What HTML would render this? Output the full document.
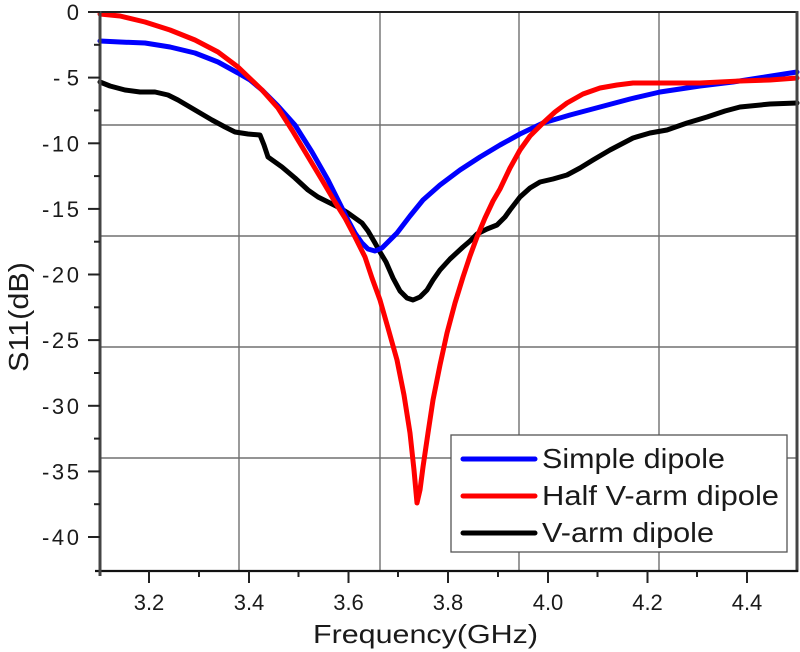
<!DOCTYPE html>
<html>
<head>
<meta charset="utf-8">
<style>
html,body{margin:0;padding:0;background:#fff;}
svg{display:block;}
text{font-family:"Liberation Sans",Arial,sans-serif;fill:#1a1a1a;}
</style>
</head>
<body>
<svg width="800" height="652" viewBox="0 0 800 652" xmlns="http://www.w3.org/2000/svg">
<rect width="800" height="652" fill="#fff"/>
<!-- grid -->
<g stroke="#707070" stroke-width="1.4" fill="none">
<line x1="239" y1="12" x2="239" y2="571"/>
<line x1="380" y1="12" x2="380" y2="571"/>
<line x1="519" y1="12" x2="519" y2="571"/>
<line x1="659" y1="12" x2="659" y2="571"/>
<line x1="100" y1="125" x2="797" y2="125"/>
<line x1="100" y1="236" x2="797" y2="236"/>
<line x1="100" y1="347" x2="797" y2="347"/>
<line x1="100" y1="458" x2="797" y2="458"/>
</g>
<!-- curves -->
<g fill="none" stroke-width="5" stroke-linejoin="round" stroke-linecap="round">
<polyline stroke="#000" points="100,82 110,86 125,90 140,92 155,92 168,95 178,100 195,110 212,120 225,127 235,132 248,134 260,135 264,145 268,157 275,162 282,167 295,178 308,190 318,197 328,202 340,208 348,213 355,218 362,223 368,231 375,243 380,252 386,262 393,278 400,291 407,298 413,300 420,297 427,290 433,280 440,270 450,259 463,247 470,241 477,234 487,229 497,225 505,217 510,210 520,197 530,188 540,182 553,179 567,175 580,168 593,160 610,150 633,138 650,133 667,130 687,123 707,117 725,111 740,107 770,104 797,103"/>
<polyline stroke="#0000ff" points="100,41 120,42 145,43 170,47 195,53 218,62 238,73 250,80 262,90 278,106 295,125 312,152 328,180 338,200 348,220 355,233 362,243 368,249 375,251 382,248 390,240 397,233 410,216 423,200 440,185 460,170 480,157 500,145 520,134 543,123 570,115 600,107 630,99 660,92 700,86 733,82 765,77 797,72"/>
<polyline stroke="#ff0000" points="100,14 120,16 145,22 170,30 195,40 218,52 238,67 262,90 278,108 292,130 307,155 322,180 335,202 345,218 355,237 365,257 372,278 380,300 388,328 397,360 404,395 410,433 414,470 417,503 420,490 423,467 428,433 433,400 440,365 447,333 455,303 463,277 470,256 477,237 485,218 493,201 500,189 510,168 520,150 530,136 543,123 555,112 567,103 583,94 600,88 617,85 633,83 667,83 700,83 740,81 770,80 797,78"/>
</g>
<!-- axes -->
<line x1="99" y1="12" x2="798" y2="12" stroke="#222" stroke-width="2"/>
<line x1="797" y1="11" x2="797" y2="572" stroke="#444" stroke-width="3"/>
<line x1="95" y1="571" x2="798" y2="571" stroke="#111" stroke-width="2.2"/>
<line x1="100" y1="11" x2="100" y2="576" stroke="#444" stroke-width="3"/>
<!-- y ticks -->
<g stroke="#222" stroke-width="2">
<line x1="88" y1="12" x2="100" y2="12"/>
<line x1="88" y1="77.6" x2="100" y2="77.6"/>
<line x1="88" y1="143.3" x2="100" y2="143.3"/>
<line x1="88" y1="208.9" x2="100" y2="208.9"/>
<line x1="88" y1="274.5" x2="100" y2="274.5"/>
<line x1="88" y1="340.1" x2="100" y2="340.1"/>
<line x1="88" y1="405.8" x2="100" y2="405.8"/>
<line x1="88" y1="471.4" x2="100" y2="471.4"/>
<line x1="88" y1="537" x2="100" y2="537"/>
<line x1="94" y1="44.8" x2="100" y2="44.8"/>
<line x1="94" y1="110.4" x2="100" y2="110.4"/>
<line x1="94" y1="176.1" x2="100" y2="176.1"/>
<line x1="94" y1="241.7" x2="100" y2="241.7"/>
<line x1="94" y1="307.3" x2="100" y2="307.3"/>
<line x1="94" y1="373" x2="100" y2="373"/>
<line x1="94" y1="438.6" x2="100" y2="438.6"/>
<line x1="94" y1="504.2" x2="100" y2="504.2"/>
</g>
<!-- x ticks -->
<g stroke="#222" stroke-width="2">
<line x1="149" y1="571" x2="149" y2="583"/>
<line x1="249" y1="571" x2="249" y2="583"/>
<line x1="348.5" y1="571" x2="348.5" y2="583"/>
<line x1="448" y1="571" x2="448" y2="583"/>
<line x1="548" y1="571" x2="548" y2="583"/>
<line x1="647.5" y1="571" x2="647.5" y2="583"/>
<line x1="747" y1="571" x2="747" y2="583"/>
<line x1="199" y1="571" x2="199" y2="577"/>
<line x1="298.5" y1="571" x2="298.5" y2="577"/>
<line x1="398" y1="571" x2="398" y2="577"/>
<line x1="498" y1="571" x2="498" y2="577"/>
<line x1="597.5" y1="571" x2="597.5" y2="577"/>
<line x1="697" y1="571" x2="697" y2="577"/>
</g>
<!-- y tick labels -->
<g font-size="22" text-anchor="end">
<text x="79" y="20">0</text>
<text x="79" y="85.6" textLength="26" lengthAdjust="spacing">-5</text>
<text x="79" y="151.3" textLength="37" lengthAdjust="spacing">-10</text>
<text x="79" y="216.9" textLength="37" lengthAdjust="spacing">-15</text>
<text x="79" y="282.5" textLength="37" lengthAdjust="spacing">-20</text>
<text x="79" y="348.1" textLength="37" lengthAdjust="spacing">-25</text>
<text x="79" y="413.8" textLength="37" lengthAdjust="spacing">-30</text>
<text x="79" y="479.4" textLength="37" lengthAdjust="spacing">-35</text>
<text x="79" y="545" textLength="37" lengthAdjust="spacing">-40</text>
</g>
<!-- x tick labels -->
<g font-size="22" text-anchor="middle">
<text x="149" y="610">3.2</text>
<text x="249" y="610">3.4</text>
<text x="348.5" y="610">3.6</text>
<text x="448" y="610">3.8</text>
<text x="548" y="610">4.0</text>
<text x="647.5" y="610">4.2</text>
<text x="747" y="610">4.4</text>
</g>
<!-- axis labels -->
<text x="313" y="643" font-size="26" textLength="225" lengthAdjust="spacingAndGlyphs">Frequency(GHz)</text>
<text transform="translate(28,372) rotate(-90)" x="0" y="0" font-size="28" textLength="110" lengthAdjust="spacingAndGlyphs">S11(dB)</text>
<!-- legend -->
<rect x="451" y="435" width="336" height="117" fill="#fff" stroke="#555" stroke-width="1.3"/>
<g stroke-width="5" stroke-linecap="round">
<line x1="463" y1="459" x2="535" y2="459" stroke="#0000ff"/>
<line x1="463" y1="496" x2="535" y2="496" stroke="#ff0000"/>
<line x1="463" y1="533" x2="535" y2="533" stroke="#000"/>
</g>
<g font-size="28">
<text x="542" y="468" textLength="183" lengthAdjust="spacingAndGlyphs">Simple dipole</text>
<text x="542" y="505" textLength="237" lengthAdjust="spacingAndGlyphs">Half V-arm dipole</text>
<text x="542" y="542" textLength="172" lengthAdjust="spacingAndGlyphs">V-arm dipole</text>
</g>
</svg>
</body>
</html>
